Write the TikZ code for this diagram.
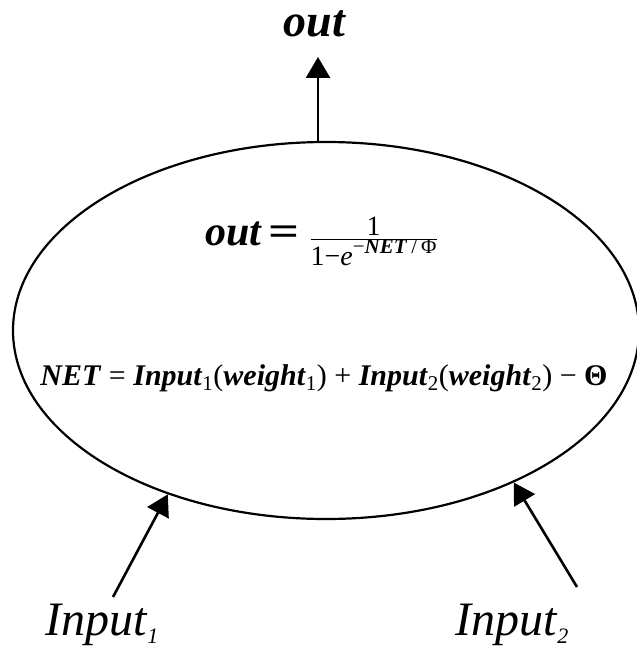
\documentclass[tikz,border=0pt]{standalone}
\usepackage{fontspec}
\setmainfont{Liberation Serif}
\usetikzlibrary{arrows.meta,shapes.geometric}
\newcommand{\bi}[1]{\textbf{\textit{#1}}}
\newcommand{\lsub}[1]{\raisebox{-8pt}{\fontsize{22}{24}\selectfont\textit{#1}}}
\begin{document}
\begin{tikzpicture}[x=1pt,y=-1pt,
  conn/.style={line width=2.6pt,-{Triangle[length=21pt,width=24pt]}},
  lbl/.style={inner sep=0pt,anchor=base}]
\useasboundingbox (0,0) rectangle (636,652);
\node[ellipse,draw,line width=2.2pt,minimum width=626pt,minimum height=377pt,inner sep=0pt] (cell) at (326,330.5) {};
\node[lbl] (outlbl) at (315,37) {\fontsize{46}{50}\selectfont\bi{out}};
\node[lbl,anchor=base west] (f1) at (205,245) {\fontsize{42}{46}\selectfont\bi{out}\hspace{6pt}\scalebox{1.3}[1]{\textbf{=}}\hspace{10pt}$\textstyle\frac{\mbox{\fontsize{28}{30}\selectfont 1}}{\mbox{\fontsize{28}{30}\selectfont 1−\textit{e}\raisebox{0.45em}{\fontsize{21}{23}\selectfont −\bi{NET}\hspace{4pt}/\hspace{4pt}Φ}}}$};
\node[lbl] (f2) at (324,385) {\fontsize{30}{34}\selectfont\bi{NET} = \bi{Input}\textsubscript{1}(\bi{weight}\textsubscript{1}) + \bi{Input}\textsubscript{2}(\bi{weight}\textsubscript{2}) − \textbf{Θ}};
\node[lbl,anchor=base west] (in1) at (45,635) {\fontsize{48}{52}\selectfont\textit{Input}\lsub{1}};
\node[lbl,anchor=base west] (in2) at (455,635) {\fontsize{48}{52}\selectfont\textit{Input}\lsub{2}};
\coordinate (o0) at (318,142);
\coordinate (o1) at (318,57);
\coordinate (s1) at (113,597);
\coordinate (s2) at (577,587);
\draw[conn] (o0) -- (o1);
\draw[conn] (s1) -- (cell.-134.3);
\draw[conn] (s2) -- (cell.-39.5);
\end{tikzpicture}
\end{document}
